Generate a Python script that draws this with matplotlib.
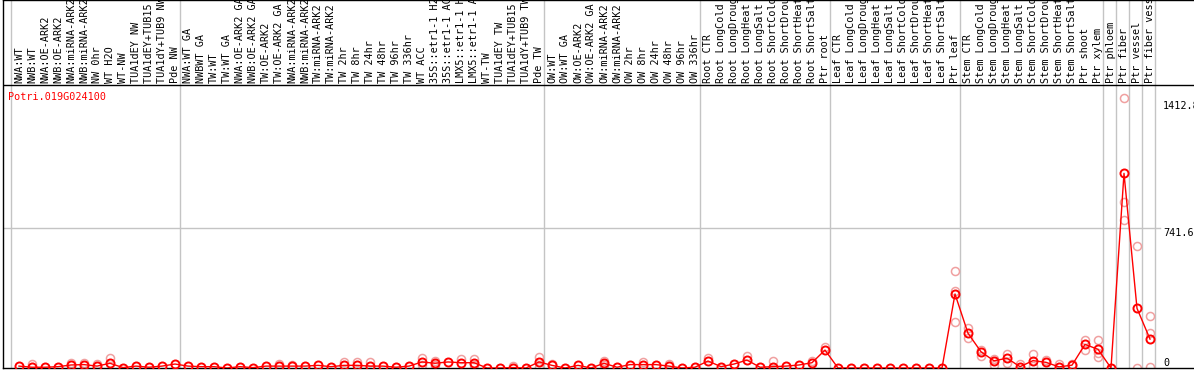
import matplotlib
matplotlib.use("Agg")
import matplotlib.pyplot as plt

samples = [
    "NWA:WT", "NWB:WT", "NWA:OE-ARK2", "NWB:OE-ARK2", "NWA:miRNA-ARK2", "NWB:miRNA-ARK2",
    "NW 0hr", "WT H2O", "WT-NW", "TUA1dEY NW", "TUA1dEY+TUB15 NW", "TUA1dY+TUB9 NW", "Pde NW",
    "NWA:WT GA", "NWBWT GA", "TW:WT", "TW:WT GA", "NWA:OE-ARK2 GA", "NWB:OE-ARK2 GA",
    "TW:OE-ARK2", "TW:OE-ARK2 GA", "NWA:miRNA-ARK2", "NWB:miRNA-ARK2", "TW:miRNA-ARK2",
    "TW:miRNA-ARK2", "TW 2hr", "TW 8hr", "TW 24hr", "TW 48hr", "TW 96hr", "TW 336hr",
    "WT ACC", "35S::etr1-1 H2O", "35S::etr1-1 ACC", "LMX5::etr1-1 H2O", "LMX5::etr1-1 ACC",
    "WT-TW", "TUA1dEY TW", "TUA1dEY+TUB15 TW", "TUA1dY+TUB9 TW", "Pde TW",
    "OW:WT", "OW:WT GA", "OW:OE-ARK2", "OW:OE-ARK2 GA", "OW:miRNA-ARK2", "OW:miRNA-ARK2",
    "OW 2hr", "OW 8hr", "OW 24hr", "OW 48hr", "OW 96hr", "OW 336hr",
    "Root CTR", "Root LongCold", "Root LongDrought", "Root LongHeat", "Root LongSalt",
    "Root ShortCold", "Root ShortDrought", "Root ShortHeat", "Root ShortSalt", "Ptr root",
    "Leaf CTR", "Leaf LongCold", "Leaf LongDrought", "Leaf LongHeat", "Leaf LongSalt",
    "Leaf ShortCold", "Leaf ShortDrought", "Leaf ShortHeat", "Leaf ShortSalt", "Ptr leaf",
    "Stem CTR", "Stem LongCold", "Stem LongDrought", "Stem LongHeat", "Stem LongSalt",
    "Stem ShortCold", "Stem ShortDrought", "Stem ShortHeat", "Stem ShortSalt",
    "Ptr shoot", "Ptr xylem", "Ptr phloem", "Ptr fiber", "Ptr vessel", "Ptr fiber vessel",
]

mean_values = [
    10, 4, 4, 7, 16, 18, 10, 25, 2, 10, 4, 10, 21,
    10, 7, 7, 0, 7, 2, 10, 10, 10, 10, 14, 7, 14, 14, 10, 10, 4, 10,
    32, 25, 32, 28, 28, 0, 0, 2, 0, 32,
    14, 0, 14, 0, 25, 4, 18, 18, 18, 10, 0, 4,
    37, 7, 21, 42, 4, 7, 10, 16, 28, 95,
    0, 0, 0, 0, 0, 0, 0, 0, 0, 392,
    184, 86, 38, 52, 7, 39, 30, 6, 15, 125, 99,
    0, 1031, 316, 153,
]

replicate_values = {
    1: [20], 4: [28], 5: [28], 6: [21], 7: [55],
    20: [20], 21: [18], 25: [30], 26: [30], 27: [30],
    31: [53, 14], 32: [39, 14], 34: [49], 35: [46, 18], 38: [12], 40: [60, 7],
    41: [21], 45: [35, 14], 48: [32], 50: [21],
    53: [53], 56: [64], 58: [37], 61: [37], 62: [111],
    72: [514, 408, 244], 73: [212, 159], 74: [97, 64], 75: [46, 14], 76: [74, 26],
    77: [20], 78: [74, 10], 79: [42], 80: [20], 81: [20],
    82: [148, 95], 83: [148, 78, 57], 85: [1429, 878, 784], 86: [646, 0],
    87: [275, 187, 4],
}

group_bounds = [-0.5, 12.5, 40.5, 52.5, 62.5, 72.5, 83.5, 84.5, 85.5, 86.5, 87.5]
y_tick_values = [1412.8, 741.6, 0]
y_tick_labels = ["1412.8", "741.6", "0"]
gene_name = "Potri.019G024100"

W, H = 1194, 370
fig = plt.figure(figsize=(W / 100, H / 100), dpi=100)
ax = fig.add_axes([3 / W, 2 / H, (W - 3) / W, 368 / H])

unit = 741.6 / 140.0
ax.set_xlim((3 - 19) / 13.0, (W - 19) / 13.0)
ax.set_ylim(0, 368 * unit)
plot_top = (368 - 85) * unit

mono = "DejaVu Sans Mono"
fs = 7.3

for b in group_bounds:
    ax.axvline(b - 0.12, color="#c4c4c4", lw=1.0, zorder=1)
ax.axhline(741.6, xmin=0, xmax=(1160 - 3) / (W - 3), color="#c4c4c4", lw=1.0, zorder=1)
ax.axhline(plot_top, color="black", lw=1.0, zorder=3)

xs = list(range(len(mean_values)))
rx, ry = [], []
for k, vals in replicate_values.items():
    for v in vals:
        rx.append(k)
        ry.append(v)
ax.plot(rx, ry, linestyle="none", marker="o", markersize=5.8, markerfacecolor="none",
        markeredgecolor="#f0a0a0", markeredgewidth=1.1, zorder=2)
ax.plot(xs, mean_values, color="red", lw=1.0, marker="o", markersize=5.8,
        markerfacecolor="none", markeredgecolor="red", markeredgewidth=1.4, zorder=4)

for i, name in enumerate(samples):
    ax.text(i, (368 - 83) * unit, name, rotation=90, ha="center", va="bottom",
            family=mono, fontsize=fs, color="black", zorder=5)

tx = (1163 - 19) / 13.0
for v, lab in zip(y_tick_values, y_tick_labels):
    ax.text(tx, v, lab, ha="left", va="bottom" if v == 0 else "top",
            family=mono, fontsize=fs, color="black")

ax.text((8 - 19) / 13.0, (368 - 97) * unit, gene_name, ha="left", va="center",
        family=mono, fontsize=fs, color="red")

ax.set_xticks([])
ax.set_yticks([])
for s in ["top", "left", "bottom"]:
    ax.spines[s].set_color("black")
    ax.spines[s].set_linewidth(1.0)
ax.spines["right"].set_visible(False)

fig.savefig("out.png", dpi=100)
